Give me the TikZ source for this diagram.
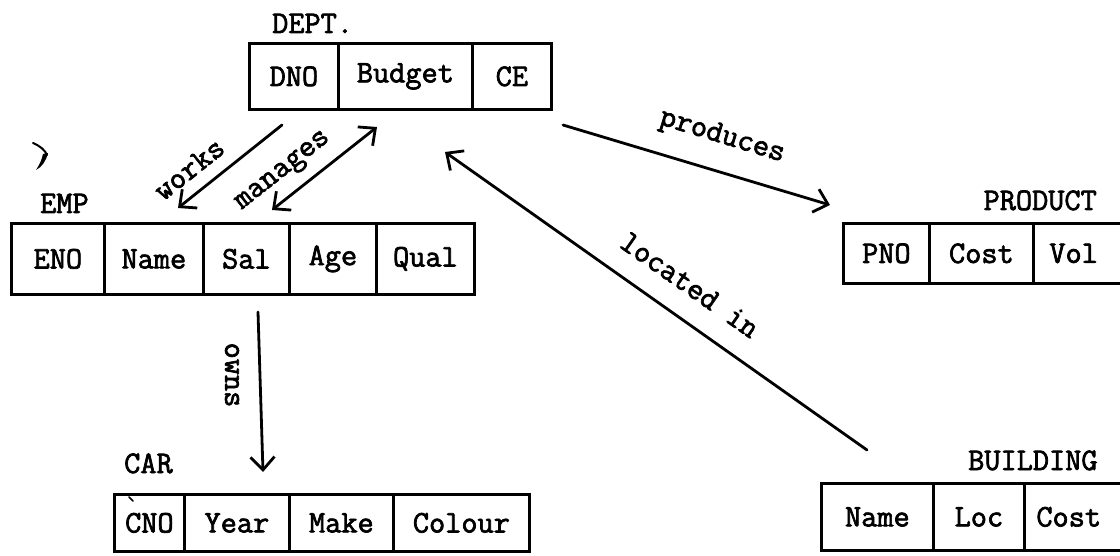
\documentclass[tikz,border=0pt]{standalone}
\usepackage{fontspec}
\setmonofont[FakeBold=2.2]{Latin Modern Mono}
\usetikzlibrary{arrows.meta}
\begin{document}
\begin{tikzpicture}[x=1pt,y=-1pt,
  txt/.style={font=\ttfamily\fontsize{31.4}{36}\selectfont, inner sep=0pt},
  cellbox/.style={txt, draw, line width=2.8pt, anchor=north west},
  title/.style={txt},
  rel/.style={txt},
  conn/.style={line width=2.8pt, line cap=round,
    -{Straight Barb[length=13pt,width=24pt,line width=2.8pt]}},
  conn2/.style={line width=2.8pt, line cap=round,
    {Straight Barb[length=13pt,width=24pt,line width=2.8pt]}-{Straight Barb[length=13pt,width=24pt,line width=2.8pt]}}
]
\useasboundingbox (0,0) rectangle (1120,556);
\clip (0,0) rectangle (1120,556);

% DEPT.
\node[title, anchor=base west] (tdept) at (272,33) {DEPT.};
\node[cellbox, minimum width=89, minimum height=66] (d1) at (248,42) {DNO};
\node[cellbox, minimum width=134, minimum height=66] (d2) at (337,42) {Budget};
\node[cellbox, minimum width=79, minimum height=66] (d3) at (471,42) {CE};

% EMP
\node[title, anchor=base west] (temp) at (40,213) {EMP};
\node[cellbox, minimum width=93, minimum height=71] (e1) at (10,222) {ENO};
\node[cellbox, minimum width=99, minimum height=71] (e2) at (103,222) {Name};
\node[cellbox, minimum width=86, minimum height=71] (e3) at (202,222) {Sal};
\node[cellbox, minimum width=87, minimum height=71] (e4) at (288,222) {Age};
\node[cellbox, minimum width=98, minimum height=71] (e5) at (375,222) {Qual};

% CAR
\node[title, anchor=base west] (tcar) at (124,473) {CAR};
\node[cellbox, minimum width=70, minimum height=57] (c1) at (113,493) {CNO};
\node[cellbox, minimum width=105, minimum height=57] (c2) at (183,493) {Year};
\node[cellbox, minimum width=104, minimum height=57] (c3) at (288,493) {Make};
\node[cellbox, minimum width=136, minimum height=57] (c4) at (392,493) {Colour};
% small tick over the C of CNO
\draw[line width=1.6pt, line cap=round] (129,497) -- (133,501);

% PRODUCT
\node[title, anchor=base east] (tprod) at (1097,210) {PRODUCT};
\node[cellbox, minimum width=86, minimum height=60] (p1) at (842,222) {PNO};
\node[cellbox, minimum width=104, minimum height=60] (p2) at (928,222) {Cost};
\node[cellbox, minimum height=60, inner xsep=16pt, text width=72pt, align=left] (p3) at (1032,222) {Vol};

% BUILDING
\node[title, anchor=base west] (tbuild) at (968,470) {BUILDING};
\node[cellbox, minimum width=112, minimum height=67] (b1) at (820,482) {Name};
\node[cellbox, minimum width=91, minimum height=67] (b2) at (932,482) {Loc};
\node[cellbox, minimum height=67, inner xsep=12pt, text width=88pt, align=left] (b3) at (1023,482) {Cost};

% connector ends
\coordinate (wA) at (282,125);
\coordinate (wB) at (178,208);
\coordinate (mA) at (377,127);
\coordinate (mB) at (272,210);
\coordinate (pA) at (563,125);
\coordinate (pB) at (830,205);
\coordinate (lA) at (867,450);
\coordinate (lB) at (445,152);
\coordinate (oA) at (258,312);
\coordinate (oB) at (263,472);

\draw[conn] (wA) -- (wB);
\draw[conn2] (mB) -- (mA);
\draw[conn] (pA) -- (pB);
\draw[conn] (lA) -- (lB);
\draw[conn] (oA) -- (oB);

% relationship names
\node[rel, rotate=38.6] (rworks) at (189,169) {works};
\node[rel, rotate=38.3] (rman) at (284,172) {manages};
\node[rel, rotate=-17] (rprod) at (722,137) {produces};
\node[rel, rotate=-35] (rloc) at (690,285) {located in};
\node[rel, rotate=-90] (rowns) at (232,375) {owns};

% ink mark at the left
\draw[line width=2pt, line cap=round] (33,143) .. controls (40,146) and (45,150) .. (47,155);
\fill (48,153) .. controls (46,161) and (42,167) .. (36,170)
  .. controls (40,164) and (42,159) .. (43,154) -- cycle;
\end{tikzpicture}
\end{document}
